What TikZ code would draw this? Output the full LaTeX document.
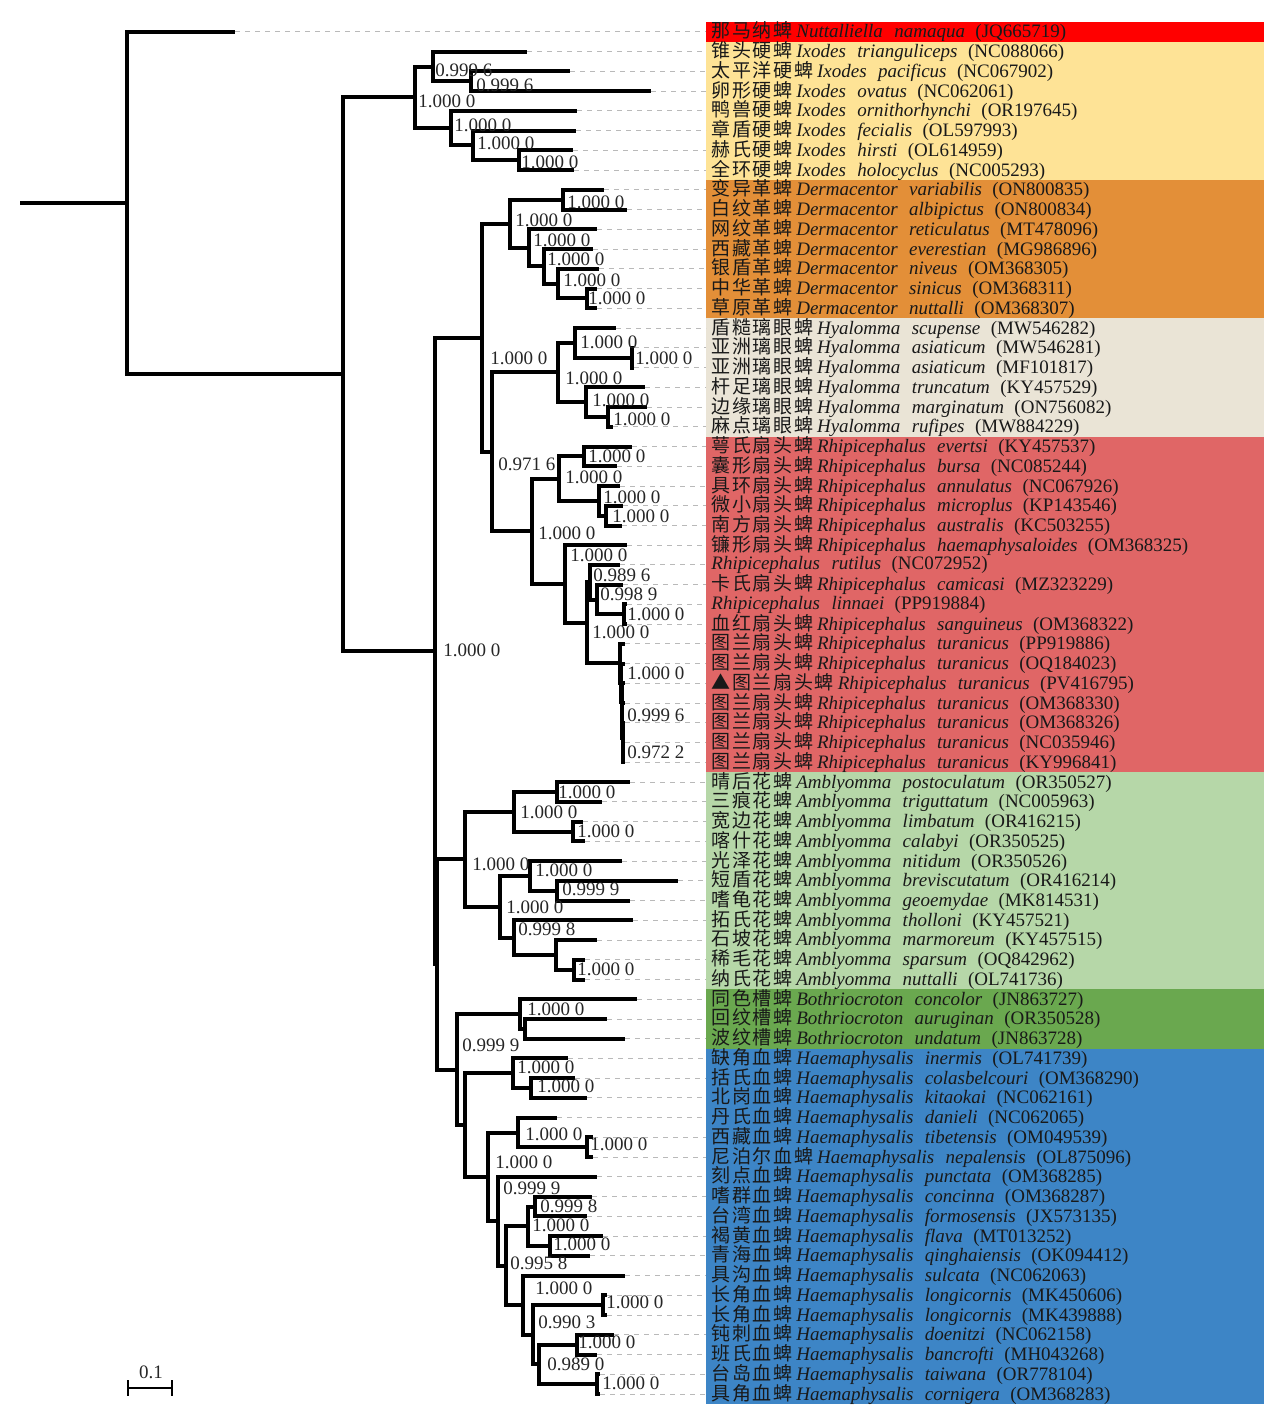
\documentclass[tikz,border=0pt]{standalone}
\usepackage{fontspec}
\setmainfont{Liberation Serif}
\newfontfamily\cjk[LetterSpace=9]{Noto Sans CJK SC}

\definecolor{nutRed}{HTML}{FF0000}
\definecolor{ixYel}{HTML}{FEE396}
\definecolor{derOra}{HTML}{E38F38}
\definecolor{hyaBei}{HTML}{EAE4D6}
\definecolor{rhiRed}{HTML}{E06666}
\definecolor{ambGrn}{HTML}{B6D7A8}
\definecolor{botGrn}{HTML}{6AA84F}
\definecolor{haeBlu}{HTML}{3D85C6}

% leaf text: chinese name, genus, species, accession
\newcommand{\taxon}[4]{{\cjk #1}\hspace{.2em}\textit{#2}\hspace{.6em}\textit{#3}\hspace{.55em}(#4)}
\newcommand{\taxonl}[3]{\textit{#1}\hspace{.6em}\textit{#2}\hspace{.55em}(#3)}

\begin{document}
\begin{tikzpicture}[x=0.5pt,y=-0.5pt]
	\tikzstyle{branch}=[line width=2pt,black]
	\tikzstyle{guide}=[line width=0.5pt,gray!55,dash pattern=on 2.5pt off 2.5pt]
	\tikzstyle{support}=[anchor=west,inner sep=0pt,text=black!85,font=\fontsize{9.5}{10}\selectfont]
	\tikzstyle{leaf}=[anchor=west,inner sep=0pt,text=black!90,font=\fontsize{9.5}{10}\selectfont]

	\useasboundingbox (0,0) rectangle (1270,1416);

	% clade bands
	\fill[nutRed] (706,22.1) rectangle (1264,41.9);
	\fill[ixYel] (706,41.9) rectangle (1264,180.1);
	\fill[derOra] (706,180.1) rectangle (1264,318.3);
	\fill[hyaBei] (706,318.3) rectangle (1264,436.7);
	\fill[rhiRed] (706,436.7) rectangle (1264,772.3);
	\fill[ambGrn] (706,772.3) rectangle (1264,989.4);
	\fill[botGrn] (706,989.4) rectangle (1264,1048.6);
	\fill[haeBlu] (706,1048.6) rectangle (1264,1403.9);

	% tips and guide ends
	\foreach \i/\x in {1/235,2/527,3/570,4/651,5/577,6/576,7/573,8/574,
		9/604,10/627,11/597,12/593,13/599,14/597,15/597,
		16/616,17/634,18/634,19/645,20/647,21/613,
		22/632,23/617,24/620,25/623,26/622,27/627,28/620,29/623,30/627,31/627,
		32/625,33/625,34/625,35/625,36/625,37/625,38/625,
		39/630,40/602,41/583,42/585,43/622,44/678,45/630,46/633,47/597,48/585,49/585,
		50/637,51/607,52/625,
		53/568,54/575,55/587,56/557,57/593,58/593,59/597,60/592,61/587,62/603,63/590,
		64/625,65/607,66/607,67/614,68/597,69/600,70/600}{
		\coordinate (t\i) at (\x,{32+(\i-1)*19.74});
		\coordinate (e\i) at (706,{32+(\i-1)*19.74});
		\draw[guide] (t\i) -- (e\i);
	}

	% internal nodes
	\coordinate (stem) at (20,203.2);
	\coordinate (root) at (127,203.2);
	\coordinate (nX) at (343,374.3);
	\coordinate (nIx) at (415,97.4);
	\coordinate (nIxA) at (433,66.6);
	\coordinate (nIxA2) at (471,81.4);
	\coordinate (nIxB) at (451,128.3);
	\coordinate (nIxB2) at (473,145.5);
	\coordinate (nIxB3) at (519,160.3);
	\coordinate (nY) at (435,651.2);
	\coordinate (nDH) at (482,337.9);
	\coordinate (nD0) at (510,223.9);
	\coordinate (nD1) at (563,199.8);
	\coordinate (nD2) at (529,247.9);
	\coordinate (nD3) at (544,266.4);
	\coordinate (nD4) at (558,283.7);
	\coordinate (nD5) at (587,298.5);
	\coordinate (nHR) at (492,451.9);
	\coordinate (nH0) at (558,372.5);
	\coordinate (nH1) at (575,342.9);
	\coordinate (nH1a) at (632,357.7);
	\coordinate (nH2) at (586,402.1);
	\coordinate (nH2a) at (608,417);
	\coordinate (nR0) at (532,531.3);
	\coordinate (nR1) at (559,478.6);
	\coordinate (nR1a) at (584,456.4);
	\coordinate (nR1b) at (599,500.8);
	\coordinate (nR1c) at (606,515.6);
	\coordinate (nR2) at (565,584);
	\coordinate (nR3) at (587,622.8);
	\coordinate (nR4) at (590,582.2);
	\coordinate (nR4a) at (597,599.5);
	\coordinate (nR4b) at (624,614.3);
	\coordinate (nR5) at (620,663.4);
	\coordinate (nR6) at (621,682.8);
	\coordinate (nR7) at (621.5,701.9);
	\coordinate (nR8) at (622,720.4);
	\coordinate (nR9) at (622.5,737.7);
	\coordinate (nR10) at (623,752.5);
	\coordinate (nZ) at (437,964.4);
	\coordinate (nA0) at (465,859.2);
	\coordinate (nA1) at (514,811.7);
	\coordinate (nA1a) at (557,792);
	\coordinate (nA1b) at (573,831.5);
	\coordinate (nA2) at (500,906.7);
	\coordinate (nA3) at (530,875.9);
	\coordinate (nA3a) at (557,890.7);
	\coordinate (nA4) at (514,937.5);
	\coordinate (nA4a) at (556,954.8);
	\coordinate (nA4b) at (574,969.7);
	\coordinate (nW) at (457,1069.6);
	\coordinate (nB0) at (520,1014.1);
	\coordinate (nB1) at (525,1028.9);
	\coordinate (nM0) at (465,1125.1);
	\coordinate (nM1) at (513,1073.3);
	\coordinate (nM1a) at (531,1088.1);
	\coordinate (nM2) at (488,1176.9);
	\coordinate (nM3) at (518,1132.5);
	\coordinate (nM3a) at (587,1147.3);
	\coordinate (nM4) at (498,1221.3);
	\coordinate (nM5) at (506,1265.8);
	\coordinate (nM6) at (528,1226.3);
	\coordinate (nM7) at (535,1206.5);
	\coordinate (nM8) at (550,1246);
	\coordinate (nM9) at (523,1305.2);
	\coordinate (nM10) at (533,1334.8);
	\coordinate (nM11) at (603,1305.3);
	\coordinate (nM12) at (539,1364.4);
	\coordinate (nM13) at (577,1344.7);
	\coordinate (nM14) at (597,1384.2);

	% branches
	\draw[branch] (stem) -- (root);
	\foreach \p/\c in {root/t1,root/nX,nX/nIx,nX/nY,
		nIx/nIxA,nIx/nIxB,nIxA/t2,nIxA/nIxA2,nIxA2/t3,nIxA2/t4,
		nIxB/t5,nIxB/nIxB2,nIxB2/t6,nIxB2/nIxB3,nIxB3/t7,nIxB3/t8,
		nY/nDH,nY/nZ,nDH/nD0,nDH/nHR,
		nD0/nD1,nD0/nD2,nD1/t9,nD1/t10,nD2/t11,nD2/nD3,nD3/t12,nD3/nD4,
		nD4/t13,nD4/nD5,nD5/t14,nD5/t15,
		nHR/nH0,nHR/nR0,nH0/nH1,nH0/nH2,nH1/t16,nH1/nH1a,nH1a/t17,nH1a/t18,
		nH2/t19,nH2/nH2a,nH2a/t20,nH2a/t21,
		nR0/nR1,nR0/nR2,nR1/nR1a,nR1/nR1b,nR1a/t22,nR1a/t23,
		nR1b/t24,nR1b/nR1c,nR1c/t25,nR1c/t26,
		nR2/t27,nR2/nR3,nR3/nR4,nR3/nR5,nR4/t28,nR4/nR4a,nR4a/t29,nR4a/nR4b,
		nR4b/t30,nR4b/t31,
		nR5/t32,nR5/nR6,nR6/t33,nR6/nR7,nR7/t34,nR7/nR8,nR8/t35,nR8/nR9,
		nR9/t36,nR9/nR10,nR10/t37,nR10/t38,
		nZ/nA0,nZ/nW,nA0/nA1,nA0/nA2,nA1/nA1a,nA1/nA1b,nA1a/t39,nA1a/t40,
		nA1b/t41,nA1b/t42,nA2/nA3,nA2/nA4,nA3/t43,nA3/nA3a,nA3a/t44,nA3a/t45,
		nA4/t46,nA4/nA4a,nA4a/t47,nA4a/nA4b,nA4b/t48,nA4b/t49,
		nW/nB0,nW/nM0,nB0/t50,nB0/nB1,nB1/t51,nB1/t52,
		nM0/nM1,nM0/nM2,nM1/t53,nM1/nM1a,nM1a/t54,nM1a/t55,
		nM2/nM3,nM2/nM4,nM3/t56,nM3/nM3a,nM3a/t57,nM3a/t58,
		nM4/t59,nM4/nM5,nM5/nM6,nM5/nM9,nM6/nM7,nM6/nM8,
		nM7/t60,nM7/t61,nM8/t62,nM8/t63,
		nM9/t64,nM9/nM10,nM10/nM11,nM10/nM12,nM11/t65,nM11/t66,
		nM12/nM13,nM12/nM14,nM13/t67,nM13/t68,nM14/t69,nM14/t70}
		\draw[branch] (\p) |- (\c);

	% posterior support
	\node[support] (sIx) at (418,101) {1.000 0};
	\node[support] (sIxA) at (435,70) {0.999 6};
	\node[support] (sIxA2) at (476,85) {0.999 6};
	\node[support] (sIxB) at (454,125) {1.000 0};
	\node[support] (sIxB2) at (477,143) {1.000 0};
	\node[support] (sIxB3) at (521,162) {1.000 0};
	\node[support] (sD1) at (567,202) {1.000 0};
	\node[support] (sD0) at (515,220) {1.000 0};
	\node[support] (sD2) at (533,240) {1.000 0};
	\node[support] (sD3) at (547,259) {1.000 0};
	\node[support] (sD4) at (563,280) {1.000 0};
	\node[support] (sD5) at (588,298) {1.000 0};
	\node[support] (sDH) at (490,358) {1.000 0};
	\node[support] (sH1) at (580,342) {1.000 0};
	\node[support] (sH1a) at (635,358) {1.000 0};
	\node[support] (sH0) at (565,378) {1.000 0};
	\node[support] (sH2) at (592,400) {1.000 0};
	\node[support] (sH2a) at (613,419) {1.000 0};
	\node[support] (sR1a) at (588,456) {1.000 0};
	\node[support] (sHR) at (498,464) {0.971 6};
	\node[support] (sR1) at (565,477) {1.000 0};
	\node[support] (sR1b) at (603,497) {1.000 0};
	\node[support] (sR1c) at (612,516) {1.000 0};
	\node[support] (sR0) at (538,533) {1.000 0};
	\node[support] (sR2) at (570,555) {1.000 0};
	\node[support] (sR4) at (593,575) {0.989 6};
	\node[support] (sR4a) at (600,594) {0.998 9};
	\node[support] (sR4b) at (627,614) {1.000 0};
	\node[support] (sR3) at (592,632) {1.000 0};
	\node[support] (sY) at (443,650) {1.000 0};
	\node[support] (sR6) at (627,673) {1.000 0};
	\node[support] (sR8) at (627,715) {0.999 6};
	\node[support] (sR10) at (627,752) {0.972 2};
	\node[support] (sA1a) at (558,792) {1.000 0};
	\node[support] (sA1) at (520,812) {1.000 0};
	\node[support] (sA1b) at (577,831) {1.000 0};
	\node[support] (sA0) at (472,864) {1.000 0};
	\node[support] (sA3) at (535,870) {1.000 0};
	\node[support] (sA3a) at (562,889) {0.999 9};
	\node[support] (sA2) at (506,907) {1.000 0};
	\node[support] (sA4) at (518,929) {0.999 8};
	\node[support] (sA4b) at (577,969) {1.000 0};
	\node[support] (sB0) at (527,1009) {1.000 0};
	\node[support] (sW) at (462,1045) {0.999 9};
	\node[support] (sM1) at (517,1067) {1.000 0};
	\node[support] (sM1a) at (537,1086) {1.000 0};
	\node[support] (sM3) at (525,1134) {1.000 0};
	\node[support] (sM3a) at (590,1144) {1.000 0};
	\node[support] (sM2) at (495,1162) {1.000 0};
	\node[support] (sM4) at (503,1188) {0.999 9};
	\node[support] (sM7) at (540,1206) {0.999 8};
	\node[support] (sM6) at (532,1225) {1.000 0};
	\node[support] (sM8) at (553,1244) {1.000 0};
	\node[support] (sM5) at (510,1263) {0.995 8};
	\node[support] (sM9) at (535,1288) {1.000 0};
	\node[support] (sM11) at (606,1302) {1.000 0};
	\node[support] (sM10) at (538,1322) {0.990 3};
	\node[support] (sM13) at (578,1342) {1.000 0};
	\node[support] (sM12) at (547,1364) {0.989 0};
	\node[support] (sM14) at (602,1383) {1.000 0};

	% taxa
	\foreach \i/\txt in {
		1/{\taxon{那马纳蜱}{Nuttalliella}{namaqua}{JQ665719}},
		2/{\taxon{锥头硬蜱}{Ixodes}{trianguliceps}{NC088066}},
		3/{\taxon{太平洋硬蜱}{Ixodes}{pacificus}{NC067902}},
		4/{\taxon{卵形硬蜱}{Ixodes}{ovatus}{NC062061}},
		5/{\taxon{鸭兽硬蜱}{Ixodes}{ornithorhynchi}{OR197645}},
		6/{\taxon{章盾硬蜱}{Ixodes}{fecialis}{OL597993}},
		7/{\taxon{赫氏硬蜱}{Ixodes}{hirsti}{OL614959}},
		8/{\taxon{全环硬蜱}{Ixodes}{holocyclus}{NC005293}},
		9/{\taxon{变异革蜱}{Dermacentor}{variabilis}{ON800835}},
		10/{\taxon{白纹革蜱}{Dermacentor}{albipictus}{ON800834}},
		11/{\taxon{网纹革蜱}{Dermacentor}{reticulatus}{MT478096}},
		12/{\taxon{西藏革蜱}{Dermacentor}{everestian}{MG986896}},
		13/{\taxon{银盾革蜱}{Dermacentor}{niveus}{OM368305}},
		14/{\taxon{中华革蜱}{Dermacentor}{sinicus}{OM368311}},
		15/{\taxon{草原革蜱}{Dermacentor}{nuttalli}{OM368307}},
		16/{\taxon{盾糙璃眼蜱}{Hyalomma}{scupense}{MW546282}},
		17/{\taxon{亚洲璃眼蜱}{Hyalomma}{asiaticum}{MW546281}},
		18/{\taxon{亚洲璃眼蜱}{Hyalomma}{asiaticum}{MF101817}},
		19/{\taxon{杆足璃眼蜱}{Hyalomma}{truncatum}{KY457529}},
		20/{\taxon{边缘璃眼蜱}{Hyalomma}{marginatum}{ON756082}},
		21/{\taxon{麻点璃眼蜱}{Hyalomma}{rufipes}{MW884229}},
		22/{\taxon{萼氏扇头蜱}{Rhipicephalus}{evertsi}{KY457537}},
		23/{\taxon{囊形扇头蜱}{Rhipicephalus}{bursa}{NC085244}},
		24/{\taxon{具环扇头蜱}{Rhipicephalus}{annulatus}{NC067926}},
		25/{\taxon{微小扇头蜱}{Rhipicephalus}{microplus}{KP143546}},
		26/{\taxon{南方扇头蜱}{Rhipicephalus}{australis}{KC503255}},
		27/{\taxon{镰形扇头蜱}{Rhipicephalus}{haemaphysaloides}{OM368325}},
		28/{\taxonl{Rhipicephalus}{rutilus}{NC072952}},
		29/{\taxon{卡氏扇头蜱}{Rhipicephalus}{camicasi}{MZ323229}},
		30/{\taxonl{Rhipicephalus}{linnaei}{PP919884}},
		31/{\taxon{血红扇头蜱}{Rhipicephalus}{sanguineus}{OM368322}},
		32/{\taxon{图兰扇头蜱}{Rhipicephalus}{turanicus}{PP919886}},
		33/{\taxon{图兰扇头蜱}{Rhipicephalus}{turanicus}{OQ184023}},
		34/{\taxon{▲图兰扇头蜱}{Rhipicephalus}{turanicus}{PV416795}},
		35/{\taxon{图兰扇头蜱}{Rhipicephalus}{turanicus}{OM368330}},
		36/{\taxon{图兰扇头蜱}{Rhipicephalus}{turanicus}{OM368326}},
		37/{\taxon{图兰扇头蜱}{Rhipicephalus}{turanicus}{NC035946}},
		38/{\taxon{图兰扇头蜱}{Rhipicephalus}{turanicus}{KY996841}},
		39/{\taxon{晴后花蜱}{Amblyomma}{postoculatum}{OR350527}},
		40/{\taxon{三痕花蜱}{Amblyomma}{triguttatum}{NC005963}},
		41/{\taxon{宽边花蜱}{Amblyomma}{limbatum}{OR416215}},
		42/{\taxon{喀什花蜱}{Amblyomma}{calabyi}{OR350525}},
		43/{\taxon{光泽花蜱}{Amblyomma}{nitidum}{OR350526}},
		44/{\taxon{短盾花蜱}{Amblyomma}{breviscutatum}{OR416214}},
		45/{\taxon{嗜龟花蜱}{Amblyomma}{geoemydae}{MK814531}},
		46/{\taxon{拓氏花蜱}{Amblyomma}{tholloni}{KY457521}},
		47/{\taxon{石坡花蜱}{Amblyomma}{marmoreum}{KY457515}},
		48/{\taxon{稀毛花蜱}{Amblyomma}{sparsum}{OQ842962}},
		49/{\taxon{纳氏花蜱}{Amblyomma}{nuttalli}{OL741736}},
		50/{\taxon{同色槽蜱}{Bothriocroton}{concolor}{JN863727}},
		51/{\taxon{回纹槽蜱}{Bothriocroton}{auruginan}{OR350528}},
		52/{\taxon{波纹槽蜱}{Bothriocroton}{undatum}{JN863728}},
		53/{\taxon{缺角血蜱}{Haemaphysalis}{inermis}{OL741739}},
		54/{\taxon{括氏血蜱}{Haemaphysalis}{colasbelcouri}{OM368290}},
		55/{\taxon{北岗血蜱}{Haemaphysalis}{kitaokai}{NC062161}},
		56/{\taxon{丹氏血蜱}{Haemaphysalis}{danieli}{NC062065}},
		57/{\taxon{西藏血蜱}{Haemaphysalis}{tibetensis}{OM049539}},
		58/{\taxon{尼泊尔血蜱}{Haemaphysalis}{nepalensis}{OL875096}},
		59/{\taxon{刻点血蜱}{Haemaphysalis}{punctata}{OM368285}},
		60/{\taxon{嗜群血蜱}{Haemaphysalis}{concinna}{OM368287}},
		61/{\taxon{台湾血蜱}{Haemaphysalis}{formosensis}{JX573135}},
		62/{\taxon{褐黄血蜱}{Haemaphysalis}{flava}{MT013252}},
		63/{\taxon{青海血蜱}{Haemaphysalis}{qinghaiensis}{OK094412}},
		64/{\taxon{具沟血蜱}{Haemaphysalis}{sulcata}{NC062063}},
		65/{\taxon{长角血蜱}{Haemaphysalis}{longicornis}{MK450606}},
		66/{\taxon{长角血蜱}{Haemaphysalis}{longicornis}{MK439888}},
		67/{\taxon{钝刺血蜱}{Haemaphysalis}{doenitzi}{NC062158}},
		68/{\taxon{班氏血蜱}{Haemaphysalis}{bancrofti}{MH043268}},
		69/{\taxon{台岛血蜱}{Haemaphysalis}{taiwana}{OR778104}},
		70/{\taxon{具角血蜱}{Haemaphysalis}{cornigera}{OM368283}}}
		\node[leaf] (lab\i) at (711,{32+(\i-1)*19.74}) {\txt};

	% scale bar
	\coordinate (sbL) at (128,1388);
	\coordinate (sbR) at (172,1388);
	\draw[line width=0.8pt] (sbL) -- (sbR);
	\draw[line width=0.8pt] ([yshift=4pt]sbL) -- ([yshift=-4pt]sbL);
	\draw[line width=0.8pt] ([yshift=4pt]sbR) -- ([yshift=-4pt]sbR);
	\node[support,anchor=center] (sbT) at (151,1372) {0.1};
\end{tikzpicture}
\end{document}
